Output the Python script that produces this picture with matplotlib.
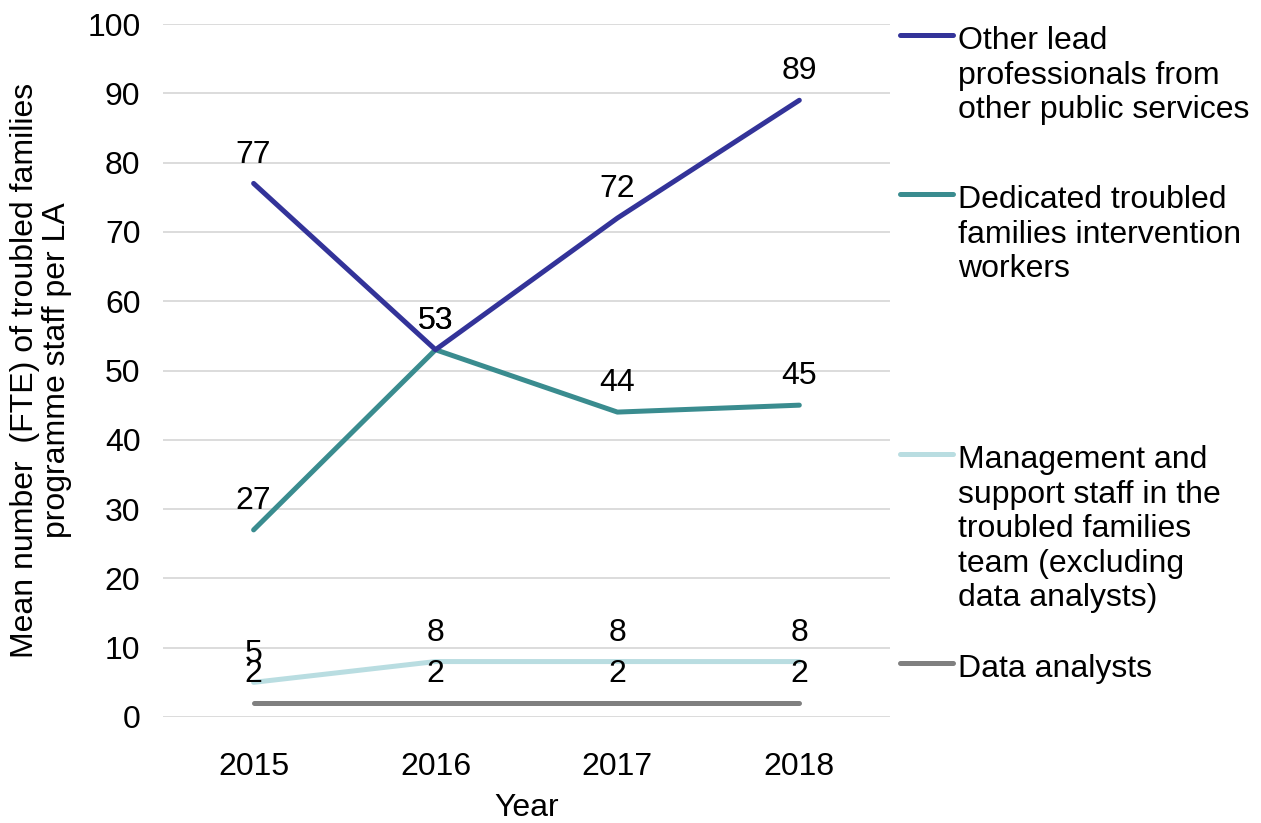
import matplotlib.pyplot as plt
from matplotlib.lines import Line2D

plt.rcParams['font.family'] = ['Liberation Sans', 'DejaVu Sans']

years = ['2015', '2016', '2017', '2018']
series_names = [
    'Other lead\nprofessionals from\nother public services',
    'Dedicated troubled\nfamilies intervention\nworkers',
    'Management and\nsupport staff in the\ntroubled families\nteam (excluding\ndata analysts)',
    'Data analysts',
]
other_lead = [77, 53, 72, 89]
dedicated = [27, 53, 44, 45]
management = [5, 8, 8, 8]
analysts = [2, 2, 2, 2]
colors = ['#333399', '#3A8C8F', '#B9DDE1', '#808080']

FS = 23

fig = plt.figure(figsize=(12.61, 8.23), dpi=100)
ax = fig.add_axes([0.129, 0.1288, 0.577, 0.842])

x = list(range(len(years)))
all_series = [other_lead, dedicated, management, analysts]
# draw in reverse so the top series sits on top
for vals, c in reversed(list(zip(all_series, colors))):
    ax.plot(x, vals, color=c, lw=3.6, solid_capstyle='round')
    for xi, v in zip(x, vals):
        ax.annotate(str(v), (xi, v), xytext=(0, 15), textcoords='offset points',
                    ha='center', va='baseline', fontsize=FS, color='black')

ax.set_xlim(-0.5, 3.5)
ax.set_ylim(0, 100)
ax.set_yticks(range(0, 101, 10))
ax.set_xticks(x)
ax.set_xticklabels(years)
ax.tick_params(axis='both', length=0, labelsize=FS)
ax.tick_params(axis='x', pad=25)
ax.tick_params(axis='y', pad=16)
ax.grid(axis='y', color='#D9D9D9', lw=1.3)
ax.set_axisbelow(True)
for s in ax.spines.values():
    s.set_visible(False)

ax.set_xlabel('Year', fontsize=FS, labelpad=8)
ax.set_ylabel('Mean number  (FTE) of troubled families\nprogramme staff per LA',
              fontsize=FS, labelpad=11, linespacing=1.1)

# legend drawn by hand to keep the original spacing
W, H = 1261, 823
legend_y = [35, 194, 454, 663]
for name, c, ly in zip(series_names, colors, legend_y):
    yf = 1 - ly / H
    fig.add_artist(Line2D([900 / W, 953 / W], [yf, yf], color=c, lw=3.6,
                          solid_capstyle='round', transform=fig.transFigure))
    fig.text(958 / W, 1 - (ly - 9) / H, name, fontsize=FS, va='top', ha='left',
             linespacing=1.2)

fig.savefig('out.png', dpi=100)
